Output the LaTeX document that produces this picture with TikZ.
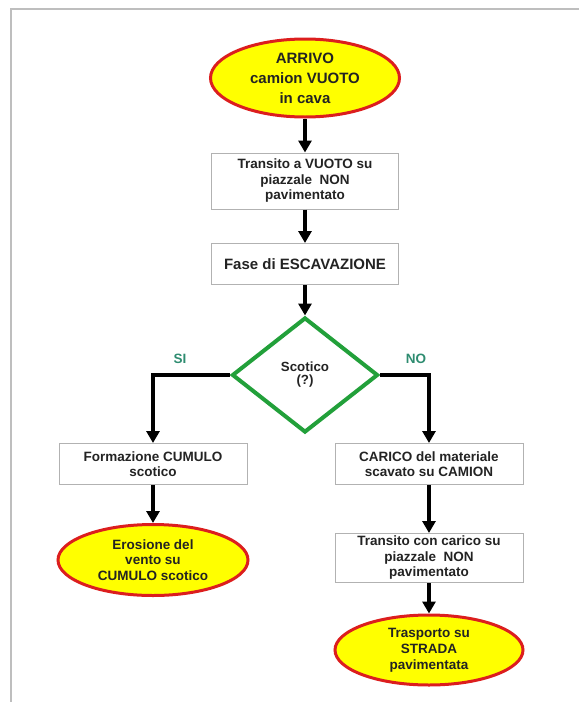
\documentclass[tikz,border=0pt]{standalone}
\usepackage{fontspec}
\setmainfont{Liberation Sans}
\usetikzlibrary{shapes.geometric,arrows.meta}

\definecolor{framegray}{RGB}{190,190,190}
\definecolor{boxgray}{RGB}{178,178,178}
\definecolor{txtgray}{RGB}{35,35,35}
\definecolor{termred}{RGB}{220,30,30}
\definecolor{termyellow}{RGB}{255,255,0}
\definecolor{choicegreen}{RGB}{34,160,58}
\definecolor{labelteal}{RGB}{46,140,112}

\tikzset{
  stepbox/.style={rectangle, draw=boxgray, line width=1pt, fill=white,
    minimum width=187pt, inner sep=0pt, align=center, text=txtgray,
    font=\fontsize{13.5}{15.5}\selectfont\bfseries},
  terminal/.style={ellipse, draw=termred, fill=termyellow, line width=3pt,
    inner sep=0pt, align=center, text=txtgray,
    font=\fontsize{13.5}{15.8}\selectfont\bfseries},
  choice/.style={diamond, draw=choicegreen, line width=4pt, fill=white,
    inner sep=0pt, align=center, text=txtgray,
    font=\fontsize{13.3}{13}\selectfont\bfseries},
  flow/.style={line width=3.2pt, -{Triangle[length=12pt,width=13pt]}},
  branch/.style={text=labelteal, font=\fontsize{13.5}{15}\selectfont\bfseries},
}

\begin{document}
\begin{tikzpicture}[x=1pt,y=-1pt]
    \useasboundingbox (0,0) rectangle (579,702);

    % Frame
    \draw[framegray,line width=1.5pt] (11,702) -- (11,9) -- (579,9);

    % Main line
    \node[terminal,minimum width=189pt,minimum height=78pt,
      font=\fontsize{15}{20}\selectfont\bfseries] (arrivo) at (305,78)
      {ARRIVO\\camion VUOTO\\in cava};
    \node[stepbox,minimum height=56pt] (vuoto) at (305,181)
      {Transito a VUOTO su\\piazzale\ \ NON\\pavimentato};
    \node[stepbox,minimum height=41pt,font=\fontsize{15}{17}\selectfont\bfseries]
      (scavo) at (305,264) {Fase di ESCAVAZIONE};
    \node[choice,minimum width=146pt,minimum height=115pt] (scotico) at (305,375)
      {Scotico\\(?)};

    % Branch SI
    \node[stepbox,minimum width=188pt,minimum height=41pt] (cumulo) at (153,464)
      {Formazione CUMULO\\scotico};
    \node[terminal,minimum width=190pt,minimum height=71pt] (erosione) at (153,560)
      {Erosione del\\vento su\\CUMULO scotico};

    % Branch NO
    \node[stepbox,minimum width=188pt,minimum height=41pt] (carico) at (429,464)
      {CARICO del materiale\\scavato su CAMION};
    \node[stepbox,minimum width=188pt,minimum height=49pt] (pieno) at (429,558)
      {Transito con carico su\\piazzale\ \ NON\\pavimentato};
    \node[terminal,minimum width=188pt,minimum height=70pt] (strada) at (429,650)
      {Trasporto su\\STRADA\\pavimentata};

    % Labels
    \node[branch] (si) at (180,359) {SI};
    \node[branch] (no) at (416,359) {NO};

    % Connectors
    \draw[flow] (arrivo) -- (vuoto);
    \draw[flow] (vuoto) -- (scavo);
    \draw[flow] (scavo) -- (scotico);
    \draw[flow] (scotico.west) -| (cumulo.north);
    \draw[flow] (scotico.east) -| (carico.north);
    \draw[flow] (cumulo) -- (erosione);
    \draw[flow] (carico) -- (pieno);
    \draw[flow] (pieno) -- (strada);
\end{tikzpicture}
\end{document}
